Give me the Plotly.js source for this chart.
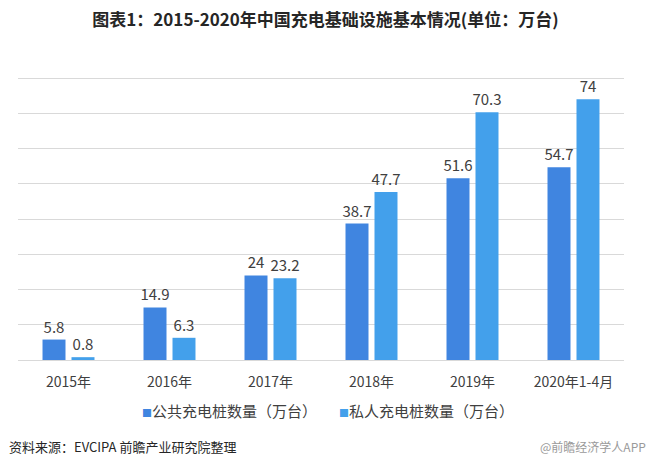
<!DOCTYPE html>
<html>
<head>
<meta charset="utf-8">
<script src="https://cdn.plot.ly/plotly-3.0.1.min.js"></script>
<style>
html,body{margin:0;padding:0;background:#fff;}
#chart{width:651px;height:467px;}
</style>
</head>
<body>
<div id="chart"></div>
<script>
const categories = ["2015年", "2016年", "2017年", "2018年", "2019年", "2020年1-4月"];
const publicPiles = [5.8, 14.9, 24, 38.7, 51.6, 54.7];
const privatePiles = [0.8, 6.3, 23.2, 47.7, 70.3, 74];
const seriesNames = ["公共充电桩数量（万台）", "私人充电桩数量（万台）"];
const seriesColors = ["#4085E0", "#43A0EB"];
const titleText = "图表1：2015-2020年中国充电基础设施基本情况(单位：万台)";
const sourceText = "资料来源：EVCIPA 前瞻产业研究院整理";
const watermarkText = "@前瞻经济学人APP";

const cjk = '"Noto Sans CJK SC", "Microsoft YaHei", sans-serif';

const traces = [publicPiles, privatePiles].map((vals, i) => ({
  type: "bar", name: seriesNames[i], x: categories, y: vals,
  marker: {color: seriesColors[i]},
  text: vals.map(String), textposition: "outside", constraintext: "none",
  textfont: {family: cjk, size: 15, color: "#404040"},
  cliponaxis: false, hoverinfo: "x+y"
}));

const legendX = [0.2013, 0.5264];
const legendAnn = seriesNames.map((n, i) => ({
  text: '<span style="color:' + seriesColors[i] + ';font-size:10px">■</span>' + n,
  xref: "paper", yref: "paper", x: legendX[i], xanchor: "left",
  y: -0.1767, yanchor: "middle", showarrow: false,
  font: {family: cjk, size: 15, color: "#404040"}
}));

const layout = {
  width: 651, height: 467,
  margin: {l: 18, r: 27, t: 77, b: 107},
  paper_bgcolor: "#ffffff", plot_bgcolor: "#ffffff",
  font: {family: cjk, color: "#404040", size: 12},
  title: {
    text: "<b>" + titleText + "</b>",
    font: {family: cjk, size: 17, color: "#262626"},
    x: 0.5, xanchor: "center", y: 0.957, yanchor: "middle"
  },
  barmode: "group", bargap: 0.426, bargroupgap: 0.207,
  uniformtext: {mode: false},
  xaxis: {
    type: "category", showgrid: false, zeroline: false,
    showline: false, ticks: "", ticklabelstandoff: 12,
    tickfont: {family: cjk, size: 14, color: "#404040"}
  },
  yaxis: {
    range: [0, 80.3], dtick: 10, showticklabels: false,
    showgrid: true, gridcolor: "#d9d9d9", gridwidth: 1,
    zeroline: true, zerolinecolor: "#d9d9d9", zerolinewidth: 1,
    showline: false, ticks: ""
  },
  showlegend: false,
  annotations: legendAnn.concat([
    {
      text: sourceText, xref: "paper", yref: "paper",
      x: -0.018, xanchor: "left", y: -0.307, yanchor: "middle",
      showarrow: false, font: {family: cjk, size: 13, color: "#262626"}
    },
    {
      text: watermarkText, xref: "paper", yref: "paper",
      x: 1.04, xanchor: "right", y: -0.307, yanchor: "middle",
      showarrow: false, font: {family: cjk, size: 12, color: "#9a9a9a"}
    }
  ])
};

Plotly.newPlot("chart", traces, layout, {displayModeBar: false, staticPlot: true});
</script>
</body>
</html>
